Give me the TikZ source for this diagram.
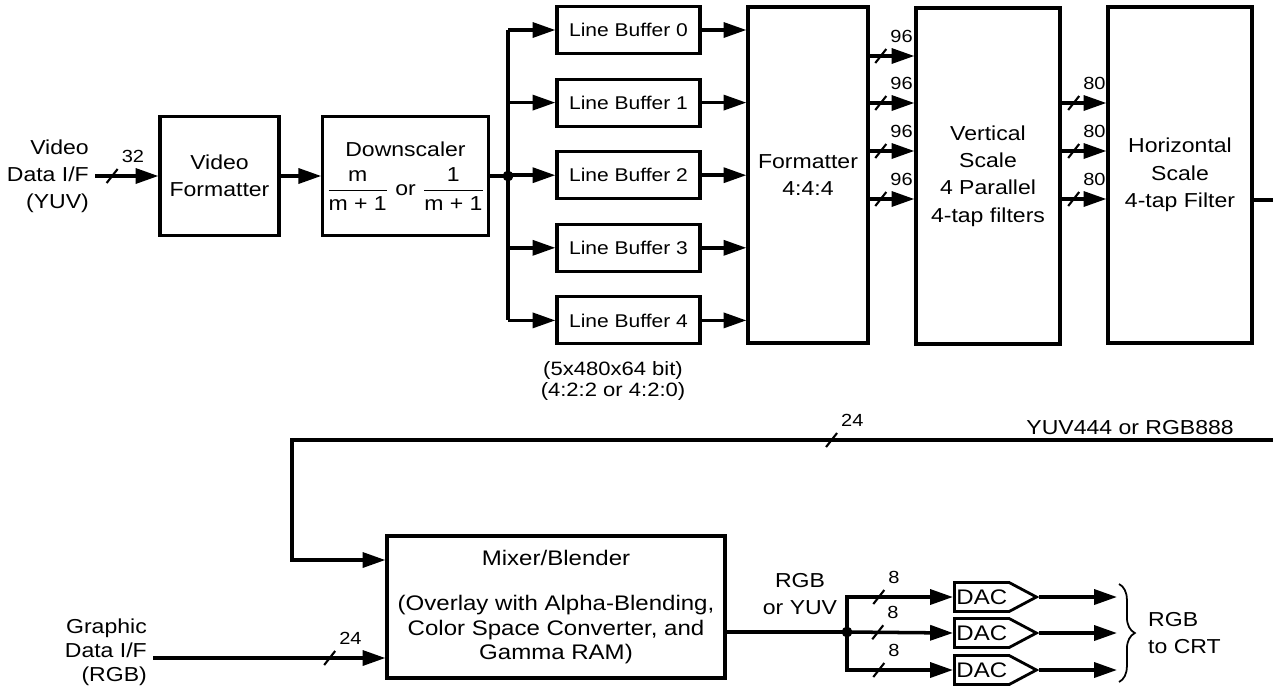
\documentclass[tikz,border=0pt]{standalone}
\usepackage{amsmath}
\usepackage{fontspec}
\setmainfont[FakeStretch=1.14]{Liberation Sans}
\usetikzlibrary{arrows.meta,shapes.symbols,decorations.pathreplacing,calc}

\begin{document}
\begin{tikzpicture}[
  x=0.02cm, y=-0.02cm,
  font=\fontsize{11.5}{15.5}\selectfont,
  blk/.style={rectangle, draw, line width=1.8pt, align=center, inner sep=2pt},
  lbf/.style={blk, minimum width=2.86cm, minimum height=0.94cm,
              font=\fontsize{10.5}{12}\selectfont},
  wire/.style={line width=2pt, -{Triangle[length=13pt,width=8.5pt]}},
  bare/.style={line width=2pt},
  jdot/.style={circle, fill=black, draw=black, inner sep=0pt, minimum size=0.2cm},
  dacb/.style={signal, signal to=east, signal pointer angle=56, draw,
               line width=1.6pt, minimum width=1.64cm, minimum height=0.58cm,
               inner sep=1pt, font=\fontsize{12}{14}\selectfont},
  brc/.style={decorate, decoration={brace, amplitude=9pt}, line width=1pt},
  bus/.pic={
    \draw[-, line width=1.2pt] (-5.5,7) -- (5.5,-7);
    \node[anchor=south west, inner sep=0.5pt, font=\fontsize{10}{12}\selectfont] at (7,-11) {#1};
  },
]
  \useasboundingbox (0,0) rectangle (1273,687);
  % VIDEO PATH
  \node[align=right, anchor=east] (vin) at (95,176) {Video\\Data I/F\\(YUV)};
  \node[blk, minimum width=2.38cm, minimum height=2.38cm] (vfmt) at (219.5,176) {Video\\Formatter};
  \node[blk, minimum width=3.14cm, minimum height=2.38cm] (dscl) at (405.5,176)
    {Downscaler\\[5pt]$\dfrac{\text{m}}{\text{m + 1}}$ or $\dfrac{\text{1}}{\text{m + 1}}$};
  % LINE BUFFERS
  \foreach \i in {0,...,4}
    \node[lbf] (lb\i) at (628.5,30+72.6*\i) {Line Buffer \i};
  \node[align=center, font=\fontsize{11}{11.5}\selectfont] (lbnote) at (613,381) {(5x480x64 bit)\\(4:2:2 or 4:2:0)};
  % FORMATTER AND SCALERS
  \node[blk, minimum width=2.4cm, minimum height=6.72cm] (fmt) at (808,175) {Formatter\\4:4:4};
  \node[blk, minimum width=2.88cm, minimum height=6.72cm] (vsc) at (988,176) {Vertical\\Scale\\4 Parallel\\4-tap filters};
  \node[blk, minimum width=2.88cm, minimum height=6.72cm] (hsc) at (1180,175) {Horizontal\\Scale\\4-tap Filter};
  \coordinate (vout) at (1273,200);
  % MIXER PATH
  \coordinate (fb) at (1273,440);
  \coordinate (fb-turn) at (292,440);
  \node[anchor=base east] (fbnote) at (1240,434) {YUV444 or RGB888};
  \node[blk, minimum width=6.76cm, minimum height=2.84cm, font=\fontsize{12}{14}\selectfont] (mix) at (556,607)
    {Mixer/Blender\\[12pt](Overlay with Alpha-Blending,\\Color Space Converter, and\\Gamma RAM)};
  \node[align=right, anchor=east, font=\fontsize{11.5}{13.6}\selectfont] (gin) at (153,652) {Graphic\\Data I/F\\(RGB)};
  \coordinate (gin-out) at (153,658);
  \node[align=center, anchor=south] (mixout) at (800,621) {RGB\\or YUV};
  % DACS
  \foreach \i/\y in {0/597,1/633,2/670} {
    \node[dacb, anchor=west] (dac\i) at (953,\y) {DAC};
    \coordinate (crt\i) at (1117,\y);
  }
  \node[align=left, anchor=west] (crt) at (1142,633) {RGB\\to CRT};

  % connections
  \draw[wire] (vin.east) -- pic[pos=.27]{bus=32} (vfmt.west);
  \draw[wire] (vfmt) -- (dscl);
  \draw[bare] (dscl.east) -- (508,176) coordinate (jn1-c);
  \draw[bare] (jn1-c|-lb0.west) -- (jn1-c|-lb4.west);
  \foreach \i in {0,...,4} {
    \draw[wire] (jn1-c|-lb\i.west) -- (lb\i.west);
    \draw[wire] (lb\i.east) -- (fmt.west|-lb\i.east);
  }
  \node[jdot] (jn1) at (jn1-c) {};
  \foreach \y in {56,103,151,199}
    \draw[wire] (fmt.east|-0,\y) -- pic[pos=.25]{bus=96} (vsc.west|-0,\y);
  \foreach \y in {103,151,199}
    \draw[wire] (vsc.east|-0,\y) -- pic[pos=.27]{bus=80} (hsc.west|-0,\y);
  \draw[bare] (hsc.east|-vout) -- (vout);
  \draw[wire] (fb) -- pic[pos=.45]{bus=24} (fb-turn) |- (mix.west|-0,560);
  \draw[wire] (gin-out) -- pic[pos=.76]{bus=24} (mix.west|-gin-out);
  \draw[bare] (mix.east|-0,632) -- (847,632) coordinate (jn2-c);
  \draw[wire] (jn2-c) |- pic[pos=.65]{bus=8} (dac0.west);
  \draw[wire] (jn2-c) -- pic[pos=.29]{bus=8} (dac1.west);
  \draw[wire] (jn2-c) |- pic[pos=.65]{bus=8} (dac2.west);
  \node[jdot] (jn2) at (jn2-c) {};
  \foreach \i in {0,1,2}
    \draw[wire] (dac\i.east) -- (crt\i);
  \draw[brc] ([shift={(2,-13)}]crt0) -- ([shift={(2,12)}]crt2);
\end{tikzpicture}
\end{document}
